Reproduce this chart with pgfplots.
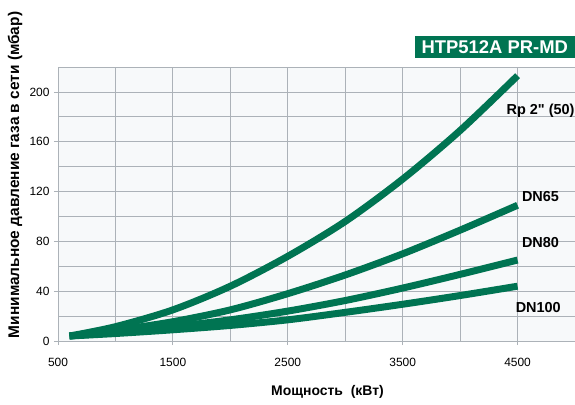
\documentclass[border=0pt]{standalone}
\usepackage{fontspec}
\setmainfont{Liberation Sans}
\newfontfamily\plainfont{Liberation Sans}
\usepackage{pgfplots}
\pgfplotsset{compat=1.18}

\definecolor{curve}{RGB}{0,116,82}
\definecolor{gridc}{RGB}{172,178,184}
\definecolor{bgc}{RGB}{247,249,250}

\begin{document}
\begin{tikzpicture}
\begin{axis}[
  name=ax,
  scale only axis, width=517bp, height=274bp,
  xmin=500, xmax=5000, ymin=0, ymax=220,
  axis lines*=left,
  axis line style={draw=gridc, line width=1pt, shorten >=0pt},
  axis background/.style={fill=bgc},
  xtick={500,1500,2500,3500,4500},
  minor xtick={1000,2000,3000,4000},
  ytick={0,40,...,200},
  minor ytick={20,60,...,220},
  grid=both,
  major grid style={gridc, line width=0.8pt},
  minor grid style={gridc, line width=0.8pt},
  tick align=outside, major tick length=4bp, minor tick length=0pt,
  tick style={gridc, line width=0.8pt},
  ticklabel style={font=\fontsize{12}{14}\selectfont},
  /pgf/number format/assume math mode=true,
  /pgf/number format/1000 sep={},
  xticklabel style={yshift=-10bp},
  yticklabel style={xshift=-1bp},
  clip=false,
]
\addplot[curve, line width=7pt, smooth] coordinates {
  (600,4) (1000,11.5) (1500,25) (2000,44) (2500,68) (3000,96) (3500,130) (4000,169) (4500,213)};
\addplot[curve, line width=7pt, smooth] coordinates {
  (600,4) (1000,8.5) (1500,15.5) (2000,25) (2500,38) (3000,53) (3500,70) (4000,89) (4500,109)};
\addplot[curve, line width=7pt, smooth] coordinates {
  (600,4) (1000,7) (1500,11.5) (2000,17) (2500,24) (3000,32.5) (3500,42.5) (4000,53.5) (4500,65)};
\addplot[curve, line width=7pt, smooth] coordinates {
  (600,4) (1000,6) (1500,9) (2000,12.5) (2500,17) (3000,23) (3500,29.5) (4000,36.5) (4500,44)};
\node[font=\plainfont\bfseries\fontsize{14.5}{16}\selectfont] at (axis cs:4700,185) {Rp 2" (50)};
\node[font=\bfseries\fontsize{14.5}{16}\selectfont] at (axis cs:4700,116) {DN65};
\node[font=\bfseries\fontsize{14.5}{16}\selectfont] at (axis cs:4700,79) {DN80};
\node[font=\bfseries\fontsize{14.5}{16}\selectfont] at (axis cs:4680,26.5) {DN100};
\end{axis}
\node[anchor=south east, fill=curve, text=white, inner sep=0pt,
  minimum width=160bp, minimum height=22bp,
  font=\bfseries\fontsize{18.5}{20}\selectfont] at ([yshift=9bp]ax.north east) {HTP512A PR-MD};
\node[font=\bfseries\fontsize{14}{16}\selectfont] at ([yshift=-51bp,xshift=11bp]ax.south) {Мощность\ \ (кВт)};
\node[rotate=90, font=\bfseries\fontsize{15.5}{17}\selectfont] at ([xshift=-43bp,yshift=29bp]ax.west) {Минимальное давление газа в сети (мбар)};
\pgfresetboundingbox
\path (ax.south west) ++(-58bp,-64bp) rectangle ++(575bp,405bp);
\end{tikzpicture}
\end{document}
